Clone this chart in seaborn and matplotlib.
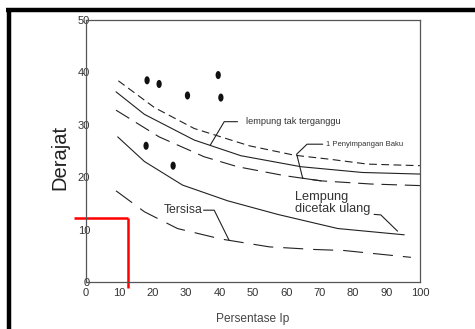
import numpy as np
import pandas as pd
import seaborn as sns
import matplotlib.pyplot as plt
from matplotlib.path import Path

sns.set_theme(style="white")
plt.rcParams['font.family'] = ['Liberation Sans', 'DejaVu Sans']

# curves (Ip %, angle in degrees)
upper_x = [9.7, 20.5, 32.4, 48.9, 62.4, 73.4, 84.3, 100.0]
upper_y = [38.4, 33.3, 29.3, 26.0, 24.2, 23.4, 22.5, 22.2]
undist_x = [9.0, 17.5, 32.4, 46.4, 64.4, 82.8, 100.0]
undist_y = [36.3, 32.0, 27.1, 24.1, 22.0, 20.9, 20.6]
lower_x = [9.0, 21.9, 35.4, 45.4, 59.4, 70.4, 85.3, 100.0]
lower_y = [32.8, 27.7, 23.9, 22.0, 20.3, 19.3, 18.7, 18.4]
remold_x = [9.5, 17.5, 28.9, 42.4, 57.4, 75.4, 95.3]
remold_y = [27.7, 23.0, 18.5, 15.5, 12.9, 10.2, 9.0]
resid_x = [9.0, 17.5, 27.4, 40.4, 54.9, 68.4, 77.3, 97.3]
resid_y = [17.4, 13.4, 10.2, 8.2, 6.7, 6.2, 6.0, 4.7]

# measured points
pts_x = [18.3, 21.9, 30.4, 39.6, 40.4, 18.0, 26.1]
pts_y = [38.5, 37.8, 35.6, 39.5, 35.2, 26.0, 22.2]

x_ticks = [0, 10, 20, 30, 40, 50, 60, 70, 80, 90, 100]
y_ticks = [0, 10, 20, 30, 40, 50]

# leader lines for the labels
lead_undist = ([45.4, 41.4, 37.2], [30.6, 30.6, 26.1])
lead_std = ([70.9, 66.2, 63.1, 64.9, 70.4], [26.3, 26.3, 24.4, 19.8, 19.3])
lead_remold = ([86.3, 88.3, 93.3], [12.9, 12.8, 9.7])
lead_resid = ([35.2, 38.4, 42.9], [13.7, 13.7, 7.9])
red_h = ([-3.6, 12.6], [12.2, 12.2])
red_v = ([12.6, 12.6], [12.2, -1.2])

def curve(name, xs, ys):
    return pd.DataFrame({"Ip": xs, "deg": ys, "curve": name})

df = pd.concat([
    curve("upper", upper_x, upper_y),
    curve("undisturbed", undist_x, undist_y),
    curve("lower", lower_x, lower_y),
    curve("remolded", remold_x, remold_y),
    curve("residual", resid_x, resid_y),
], ignore_index=True)

styles = {
    "upper": (0, (7, 4)),
    "undisturbed": "-",
    "lower": (0, (14, 7)),
    "remolded": "-",
    "residual": (0, (18, 9)),
}

fig = plt.figure(figsize=(4.75, 3.29), dpi=100)
ax = fig.add_axes([0.181, 0.143, 0.703, 0.796])

ink = "#222222"
for name, sub in df.groupby("curve", sort=False):
    sns.lineplot(data=sub, x="Ip", y="deg", ax=ax, color=ink, lw=0.8,
                 linestyle=styles[name], sort=False, legend=False)

t = np.linspace(0, 2 * np.pi, 30)
ellipse = Path(np.column_stack([0.65 * np.cos(t), np.sin(t)]))
sns.scatterplot(x=pts_x, y=pts_y, ax=ax, marker=ellipse, s=34, color="#111111",
                edgecolor="none")

for lx, ly in [lead_undist, lead_std, lead_remold, lead_resid]:
    ax.plot(lx, ly, color=ink, lw=0.8)

ax.text(47.9, 30.6, "lempung tak terganggu", fontsize=6.7, color="#333333", va="center")
ax.text(71.8, 26.3, "1 Penyimpangan Baku", fontsize=5.5, color="#333333", va="center")
ax.text(62.6, 17.4, "Lempung\ndicetak ulang", fontsize=9.2, color="#333333",
        va="top", linespacing=1.0)
ax.text(35.0, 13.7, "Tersisa", fontsize=8.8, color="#333333", va="center", ha="right")

ax.plot(*red_h, color="red", lw=1.8, clip_on=False, solid_capstyle="butt")
ax.plot(*red_v, color="red", lw=1.8, clip_on=False, solid_capstyle="butt")

ax.set_xlim(0, 100)
ax.set_ylim(0, 50)
ax.set_xticks(x_ticks)
ax.set_yticks(y_ticks)
ax.tick_params(axis="both", length=0, labelsize=8, labelcolor="#333333")
ax.tick_params(axis="y", pad=-3)
ax.tick_params(axis="x", pad=4)
for s in ax.spines.values():
    s.set_color("#555555")
    s.set_linewidth(0.9)

ax.set_xlabel("Persentase Ip", fontsize=8.6, color="#444444", labelpad=11)
ax.set_ylabel("")
fig.text(0.126, 0.52, "Derajat", rotation=90, fontsize=14.5, color="#222222",
         ha="center", va="center")

# outer border of the scanned figure
fig.add_artist(plt.Line2D([0.013, 1.0], [0.97, 0.97], color="black", lw=3.2,
                          solid_capstyle="butt"))
fig.add_artist(plt.Line2D([0.019, 0.019], [0.0, 0.976], color="black", lw=3.2,
                          solid_capstyle="butt"))

fig.savefig("out.png", dpi=100)
